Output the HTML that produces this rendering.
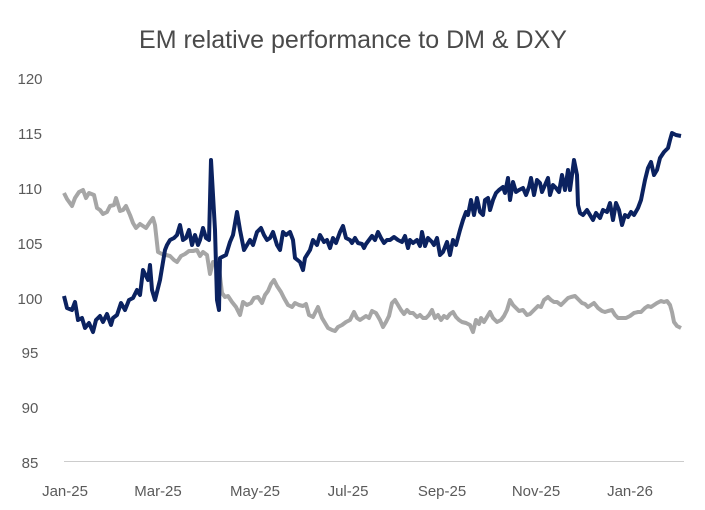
<!DOCTYPE html><html><head><style>body{margin:0;background:#fff}svg{display:block}text{font-family:"Liberation Sans",sans-serif}</style></head><body>
<svg width="705" height="510" viewBox="0 0 705 510">
<text x="353" y="48" text-anchor="middle" font-size="25" fill="#4a4a4a">EM relative performance to DM &amp; DXY</text>
<g font-size="15" fill="#5a5a5a" text-anchor="middle">
<text x="30" y="84">120</text><text x="30" y="139">115</text><text x="30" y="194">110</text><text x="30" y="249">105</text><text x="30" y="304">100</text><text x="30" y="358">95</text><text x="30" y="413">90</text><text x="30" y="468">85</text>
<text x="65" y="496">Jan-25</text><text x="158" y="496">Mar-25</text><text x="255" y="496">May-25</text><text x="348" y="496">Jul-25</text><text x="442" y="496">Sep-25</text><text x="536" y="496">Nov-25</text><text x="630" y="496">Jan-26</text>
</g>
<line x1="64" y1="461.5" x2="684" y2="461.5" stroke="#ccc" stroke-width="1"/>
<polyline fill="none" stroke="#a6a6a6" stroke-width="4" stroke-linejoin="round" points="64,193 67,199 72,206 75,198 79,192 83,190 86,198 89,193 94,195 97,208 100,210 103,214 107,212 110,206 114,205 116,198 120,211 123,210 126,206 130,215 133,223 136,228 140,224 143,226 146,228 150,222 153,218 155,225 158,252 162,254 166,255 170,256 174,260 177,262 181,256 185,254 189,251 193,251 197,250 200,256 203,252 207,255 210,274 213,262 216,262 219,268 222,293 225,297 228,296 232,302 236,307 240,315 243,302 247,305 251,303 254,298 258,297 262,303 265,295 268,291 271,284 274,280 277,286 281,292 284,298 288,305 292,307 295,303 299,305 303,306 306,304 309,315 313,317 315,313 318,307 322,318 325,323 328,328 332,330 335,331 338,327 342,325 346,322 350,320 354,312 357,318 360,320 363,318 366,316 369,318 372,311 376,313 380,320 383,327 386,322 389,316 392,303 395,300 398,305 401,310 404,314 407,310 410,313 413,313 417,317 420,315 423,318 426,318 429,315 432,310 435,318 438,315 441,320 444,316 447,318 450,314 453,312 456,317 459,320 462,322 466,323 470,325 473,332 476,320 479,324 481,318 484,322 487,317 490,312 493,318 497,322 501,320 504,316 507,310 510,300 513,305 516,308 519,311 523,310 527,315 530,314 534,310 538,306 541,307 544,300 548,297 551,300 554,302 557,302 561,305 564,302 568,298 571,297 575,296 579,300 582,303 585,304 588,307 591,305 594,303 598,308 602,311 605,312 608,311 612,310 615,315 618,318 622,318 626,318 630,316 634,313 638,312 641,312 645,308 648,306 651,307 654,305 657,303 661,301 664,302 667,301 670,305 672,312 674,322 677,326 681,328"/>
<polyline fill="none" stroke="#0b2260" stroke-width="4" stroke-linejoin="round" points="64,296 67,308 72,310 75,302 78,320 82,318 85,328 89,323 93,332 96,320 100,316 103,322 107,314 111,325 113,318 117,315 121,303 125,310 129,300 133,298 137,290 140,295 143,270 148,280 150,265 152,290 155,300 160,280 165,250 167,245 170,240 174,238 177,235 180,225 183,240 186,238 189,230 192,245 195,235 198,245 200,240 203,228 206,238 209,240 211,160 213,195 215,230 217,300 219,310 220,258 226,255 230,242 233,235 237,212 240,230 244,250 247,245 250,240 253,245 257,232 261,228 264,235 267,240 270,238 273,232 277,245 280,250 283,232 286,235 290,232 293,240 295,258 300,262 303,270 305,258 310,250 313,240 317,245 320,235 324,242 327,240 330,248 333,238 336,243 340,232 343,226 346,238 350,240 352,243 355,238 358,243 362,244 364,248 366,244 372,236 375,240 378,232 381,238 384,243 387,240 390,240 394,237 398,240 402,242 405,236 408,248 410,240 413,243 417,240 420,246 422,232 425,246 428,238 432,242 434,245 437,238 440,255 443,252 447,242 450,255 453,240 456,245 460,230 463,220 466,212 468,215 471,200 474,215 477,198 480,212 483,215 485,200 488,198 490,210 493,200 496,193 499,190 503,187 505,193 508,178 510,200 513,182 516,192 519,190 523,188 526,195 529,187 531,178 534,195 537,180 540,183 542,192 545,185 548,178 550,195 553,185 556,188 559,192 562,175 565,190 568,170 570,190 574,160 577,175 578,205 580,213 583,215 587,210 590,215 593,220 596,213 600,218 603,210 607,212 610,203 613,220 616,203 619,210 622,225 625,215 628,217 631,212 634,215 638,208 641,200 643,190 645,180 648,168 651,162 654,175 657,170 660,158 664,152 668,148 670,140 672,133 676,135 681,136"/>
</svg></body></html>
